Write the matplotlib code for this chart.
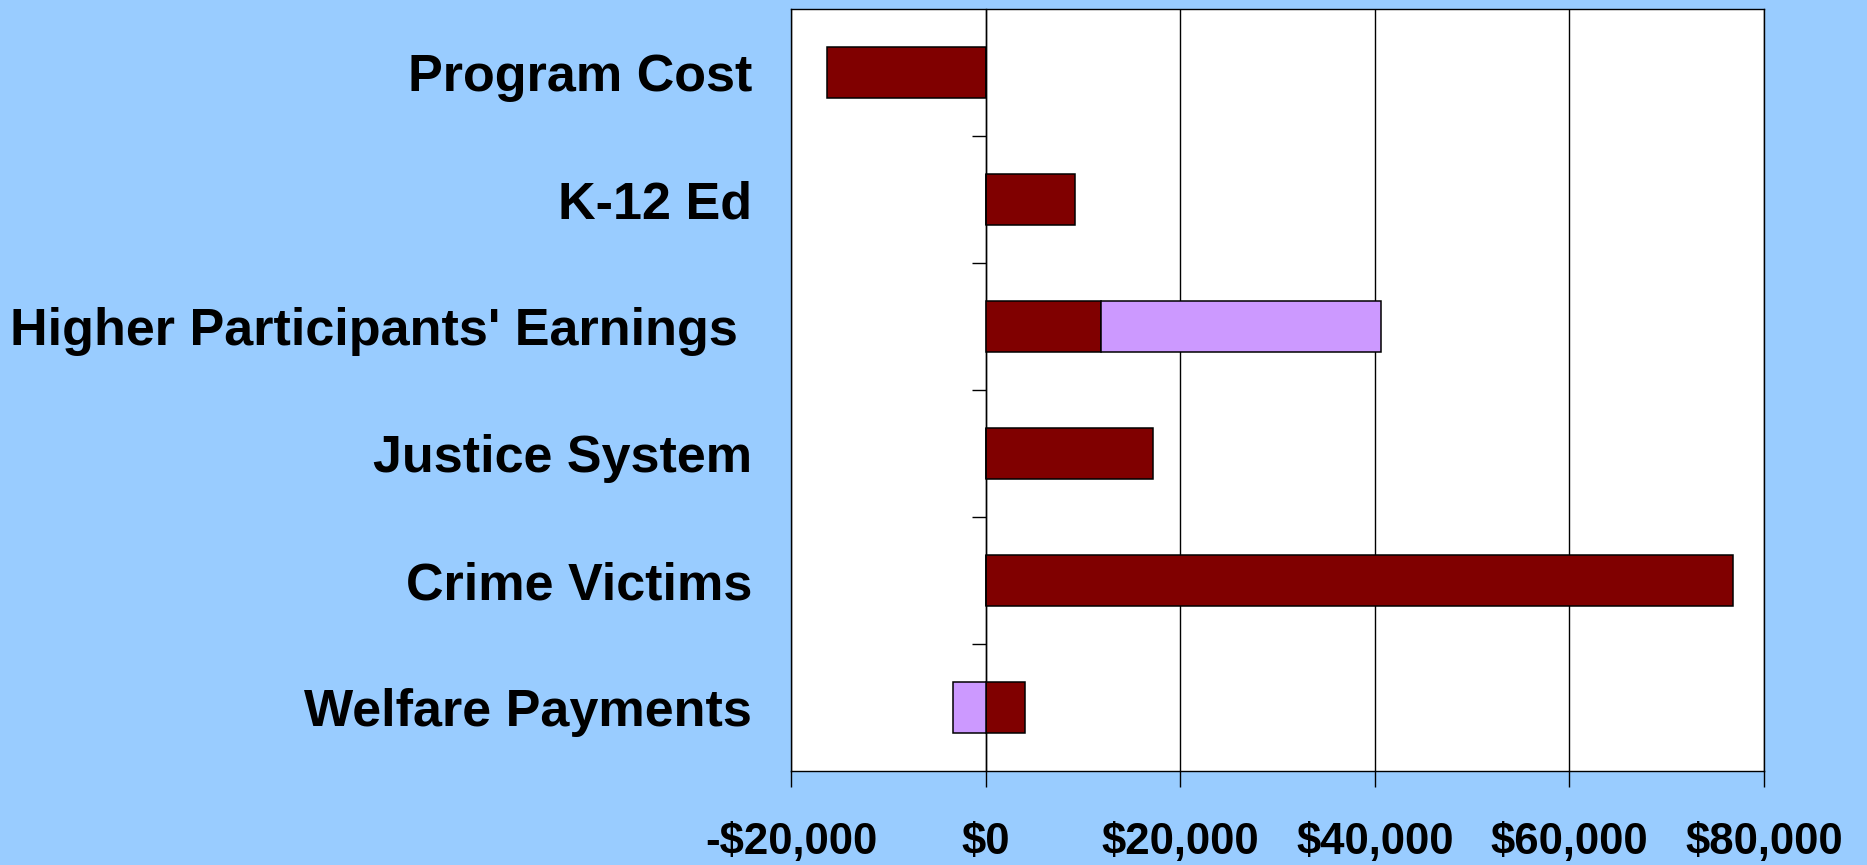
import matplotlib.pyplot as plt
from matplotlib.ticker import FuncFormatter

# categories listed top to bottom
categories = ["Program Cost", "K-12 Ed", "Higher Participants' Earnings ",
              "Justice System", "Crime Victims", "Welfare Payments"]
# dark red series (first segment) and lilac series (stacked after it)
series_a = [-16300, 9200, 11900, 17200, 76800, 4000]
series_b = [0, 0, 28700, 0, 0, -3400]
x_ticks = [-20000, 0, 20000, 40000, 60000, 80000]

dark_red = '#800000'
lilac = '#CC99FF'
bg = '#99CCFF'

plt.rcParams['font.family'] = ['Liberation Sans', 'DejaVu Sans']

fig = plt.figure(figsize=(18.67, 8.65), dpi=100, facecolor=bg)
ax = fig.add_axes([0.4237, 0.1087, 0.5211, 0.8809])
ax.set_facecolor('white')

ypos = list(range(len(categories)))
ax.barh(ypos, series_a, height=0.4, color=dark_red, edgecolor='black', linewidth=1.1, zorder=3)
# lilac segment continues from the end of the dark red one when both have the same sign
left_b = [a if (a * b > 0) else 0 for a, b in zip(series_a, series_b)]
ax.barh(ypos, series_b, left=left_b, height=0.4, color=lilac, edgecolor='black', linewidth=1.1, zorder=3)

ax.set_xlim(x_ticks[0], x_ticks[-1])
ax.set_ylim(len(categories) - 0.5, -0.5)
ax.set_xticks(x_ticks)
ax.xaxis.set_major_formatter(FuncFormatter(lambda v, p: f"-${abs(v):,.0f}" if v < 0 else f"${v:,.0f}"))
ax.tick_params(axis='x', length=11.5, width=1.0, direction='out', pad=25,
               labelsize=31.5)
for lab in ax.get_xticklabels():
    lab.set_fontweight('bold')

ax.set_yticks(ypos)
ax.set_yticklabels(categories, fontsize=37.5, fontweight='bold')
ax.tick_params(axis='y', length=0, pad=28)

ax.grid(axis='x', color='black', linewidth=1.0, zorder=1)
for s in ax.spines.values():
    s.set_linewidth(1.0)
    s.set_color('black')

# zero axis with tick marks between categories
zero_frac = (0 - x_ticks[0]) / (x_ticks[-1] - x_ticks[0])
sec = ax.secondary_yaxis(zero_frac)
sec.set_yticks([i + 0.5 for i in range(len(categories) - 1)])
sec.set_yticklabels([])
sec.tick_params(length=10, width=1.0, direction='out')
sec.spines['left'].set_linewidth(1.0)

fig.savefig('out.png', dpi=100, facecolor=bg)
